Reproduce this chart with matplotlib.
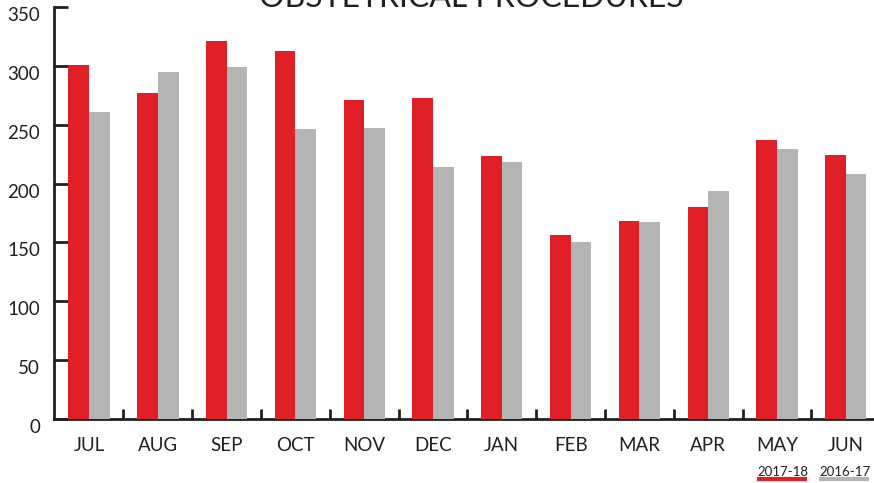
import matplotlib
matplotlib.use("Agg")
import matplotlib.pyplot as plt
from matplotlib.lines import Line2D
import numpy as np

months = ["JUL", "AUG", "SEP", "OCT", "NOV", "DEC", "JAN", "FEB", "MAR", "APR", "MAY", "JUN"]
fy_2017_18 = [301, 277, 321, 313, 271, 273, 223, 156, 168, 180, 237, 224]
fy_2016_17 = [261, 295, 299, 246, 247, 214, 218, 150, 167, 194, 229, 208]
y_ticks = [0, 50, 100, 150, 200, 250, 300, 350]

RED = "#e01f26"
GREY = "#b4b4b4"
INK = "#231f20"

plt.rcParams["font.family"] = ["Lato", "DejaVu Sans"]

fig = plt.figure(figsize=(8.74, 4.83), dpi=100)
ax = fig.add_axes([54 / 874, 64 / 483, 820 / 874, 412 / 483])

# Bars, red for this year and grey for last year
w = 0.3
x = np.arange(len(months))
ax.bar(x - w / 2, fy_2017_18, w, color=RED, zorder=3)
ax.bar(x + w / 2, fy_2016_17, w, color=GREY, zorder=3)

ax.set_xlim(-0.51, 11.41)
ax.set_ylim(0, 350)

# Spines and ticks
for side in ["top", "right"]:
    ax.spines[side].set_visible(False)
for side in ["left", "bottom"]:
    ax.spines[side].set_color(INK)
    ax.spines[side].set_linewidth(2)

ax.set_yticks(y_ticks)
ax.set_yticks([350], minor=True)
ax.tick_params(axis="y", which="major", direction="in", length=10, width=2,
               color=INK, labelsize=13.5, labelcolor=INK, pad=10)
ax.tick_params(axis="y", which="minor", direction="in", length=14.5, width=2,
               color=INK, labelleft=False)
plt.setp(ax.get_yticklabels(), va="top")

# Month labels under groups, tick marks between groups
ax.set_xticks(x)
ax.set_xticklabels(months)
ax.set_xticks(x[:-1] + 0.5, minor=True)
ax.tick_params(axis="x", which="major", length=0, labelsize=13.5, labelcolor=INK, pad=13)
ax.tick_params(axis="x", which="minor", direction="in", length=7, width=2, color=INK)

# Title (cropped at top in the original)
fig.text(471 / 874, 476 / 483, "OBSTETRICAL PROCEDURES", ha="center", va="baseline",
         fontsize=23, color=INK)

# Custom legend: label with a thick coloured underline
for label, color, x0 in [("2017-18", RED, 757), ("2016-17", GREY, 819)]:
    fig.text(x0 / 874, (483 - 476) / 483, label, ha="left", va="baseline",
             fontsize=9.5, color=INK)
    fig.add_artist(Line2D([x0 / 874, (x0 + 50) / 874], [(483 - 479) / 483] * 2,
                          color=color, linewidth=3, solid_capstyle="butt"))

fig.savefig("out.png", dpi=100)
